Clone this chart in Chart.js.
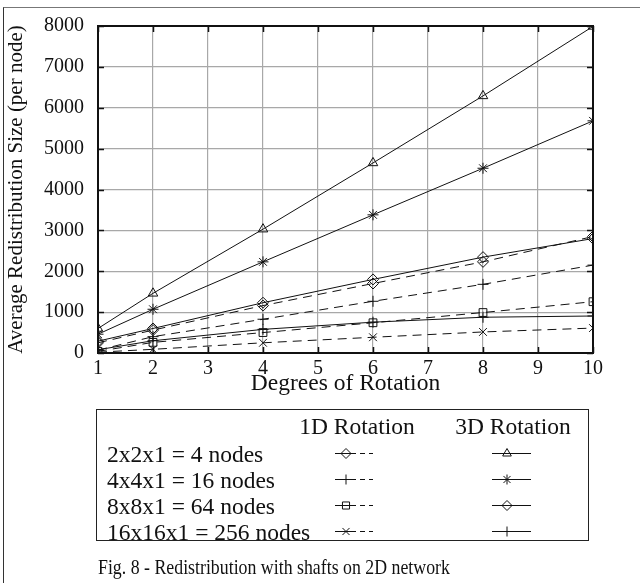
<!DOCTYPE html>
<html>
<head>
<meta charset="utf-8">
<script src="https://cdn.jsdelivr.net/npm/chart.js@4.4.1/dist/chart.umd.min.js"></script>
<style>
  html, body { margin: 0; padding: 0; background: #fff; }
  #wrap { position: relative; width: 640px; height: 583px; overflow: hidden; font-family: "Liberation Serif", "Times New Roman", serif; color: #111; }
  #frame { position: absolute; left: 3px; top: 7px; width: 700px; height: 700px; border-left: 1px solid #333; border-top: 1px solid #777; }
  #c { position: absolute; left: 0; top: 0; }
  #legend { position: absolute; left: 96px; top: 409px; width: 493px; height: 132px; border: 1px solid #222; box-sizing: border-box; }
  .t { position: absolute; font-size: 23.5px; line-height: 24px; white-space: nowrap; }
  #caption { position: absolute; left: 98px; top: 555px; font-size: 22px; line-height: 24px; white-space: nowrap; transform: scaleX(0.81); transform-origin: 0 0; }
</style>
</head>
<body>
<div id="wrap">
  <div id="frame"></div>
  <canvas id="c" width="640" height="583"></canvas>
  <div id="legend"></div>
  <div id="caption"></div>
</div>
<script>
// ---- data ----
const degrees = [1, 2, 4, 6, 8, 10];
const xTicks = [1, 2, 3, 4, 5, 6, 7, 8, 9, 10];
const yTicks = [0, 1000, 2000, 3000, 4000, 5000, 6000, 7000, 8000];
const configLabels = ["2x2x1 = 4 nodes", "4x4x1 = 16 nodes", "8x8x1 = 64 nodes", "16x16x1 = 256 nodes"];
const columnHeaders = ["1D Rotation", "3D Rotation"];
const xTitle = "Degrees of Rotation";
const yTitle = "Average Redistribution Size (per node)";
const captionText = "Fig. 8 - Redistribution with shafts on 2D network";

const rot1D_4   = [250, 560, 1160, 1700, 2230, 2850];
const rot1D_16  = [70, 400, 826, 1265, 1680, 2150];
const rot1D_64  = [40, 260, 500, 740, 990, 1255];
const rot1D_256 = [20, 90, 250, 385, 515, 610];
const rot3D_4   = [600, 1460, 3030, 4650, 6290, 7990];
const rot3D_16  = [460, 1070, 2230, 3380, 4520, 5680];
const rot3D_64  = [290, 600, 1230, 1800, 2345, 2800];
const rot3D_256 = [80, 300, 578, 754, 875, 905];

const style1D = ["rectRot", "cross", "rect", "crossRot"];
const style3D = ["triangle", "star", "rectRot", "cross"];

const series1D = [rot1D_4, rot1D_16, rot1D_64, rot1D_256];
const series3D = [rot3D_4, rot3D_16, rot3D_64, rot3D_256];

function mk(values, label, pstyle, dashed) {
  return {
    label: label,
    data: degrees.map((d, i) => ({ x: d, y: values[i] })),
    borderColor: "#111",
    borderWidth: 1,
    borderDash: dashed ? [9, 6] : [],
    pointStyle: pstyle,
    pointRadius: 5.5,
    pointBorderWidth: 1,
    pointBorderColor: "#111",
    pointBackgroundColor: "rgba(0,0,0,0)",
    fill: false,
    tension: 0
  };
}
const datasets = [];
for (let i = 0; i < 4; i++) datasets.push(mk(series1D[i], configLabels[i] + " 1D", style1D[i], true));
for (let i = 0; i < 4; i++) datasets.push(mk(series3D[i], configLabels[i] + " 3D", style3D[i], false));

// ---- legend text (HTML) ----
const legendEl = document.getElementById("legend");
const LEG_LEFT = 96, LEG_TOP = 409;
const headerX = [356, 512];
const headerY = 425;
const rowY = [453, 479, 505, 531];
columnHeaders.forEach((h, i) => {
  const d = document.createElement("div");
  d.className = "t"; d.textContent = h;
  d.style.left = (headerX[i] - LEG_LEFT) + "px";
  d.style.top = (headerY - LEG_TOP - 12) + "px";
  d.style.transform = "translateX(-50%)";
  legendEl.appendChild(d);
});
configLabels.forEach((l, i) => {
  const d = document.createElement("div");
  d.className = "t"; d.textContent = l;
  d.style.left = (106 - LEG_LEFT) + "px";
  d.style.top = (rowY[i] - LEG_TOP - 12) + "px";
  legendEl.appendChild(d);
});
document.getElementById("caption").textContent = captionText;

// ---- plugin: frame box, inner ticks, legend samples ----
const deco = {
  id: "deco",
  afterDatasetsDraw(chart) {
    const { ctx, chartArea: a, scales } = chart;
    ctx.save();
    ctx.strokeStyle = "#111"; ctx.lineWidth = 1.5; ctx.setLineDash([]);
    xTicks.forEach(v => {
      const px = Math.round(scales.x.getPixelForValue(v)) + 0.5;
      ctx.beginPath(); ctx.moveTo(px, a.top); ctx.lineTo(px, a.top + 6); ctx.stroke();
      ctx.beginPath(); ctx.moveTo(px, a.bottom); ctx.lineTo(px, a.bottom - 6); ctx.stroke();
    });
    yTicks.forEach(v => {
      const py = Math.round(scales.y.getPixelForValue(v)) + 0.5;
      ctx.beginPath(); ctx.moveTo(a.right, py); ctx.lineTo(a.right - 6, py); ctx.stroke();
      ctx.beginPath(); ctx.moveTo(a.left, py); ctx.lineTo(a.left + 6, py); ctx.stroke();
    });
    ctx.lineWidth = 2;
    ctx.strokeRect(a.left, a.top, a.right - a.left, a.bottom - a.top);
    // legend samples
    ctx.lineWidth = 1;
    ctx.strokeStyle = "#111";
    for (let i = 0; i < 4; i++) {
      const y = rowY[i] + 0.5;
      ctx.setLineDash([]);
      ctx.beginPath(); ctx.moveTo(335, y); ctx.lineTo(356, y); ctx.stroke();
      ctx.setLineDash([5, 4]);
      ctx.beginPath(); ctx.moveTo(360, y); ctx.lineTo(373, y); ctx.stroke();
      ctx.setLineDash([]);
      ctx.fillStyle = "rgba(0,0,0,0)";
      Chart.helpers.drawPoint(ctx, { pointStyle: style1D[i], radius: 5, borderWidth: 1, rotation: 0 }, 346, y);
      ctx.beginPath(); ctx.moveTo(492, y); ctx.lineTo(531, y); ctx.stroke();
      ctx.fillStyle = "rgba(0,0,0,0)";
      Chart.helpers.drawPoint(ctx, { pointStyle: style3D[i], radius: 5, borderWidth: 1, rotation: 0 }, 507, y);
    }
    ctx.restore();
  }
};

const FONT = "'Liberation Serif', 'Times New Roman', serif";
new Chart(document.getElementById("c"), {
  type: "line",
  data: { datasets: datasets },
  options: {
    responsive: false,
    animation: false,
    devicePixelRatio: 1,
    layout: { padding: { left: 0, top: 21, right: 47, bottom: 583 - 398 } },
    plugins: { legend: { display: false }, tooltip: { enabled: false } },
    scales: {
      x: {
        type: "linear", min: 1, max: 10,
        afterFit(s) { s.height = 45; },
        afterBuildTicks(s) { s.ticks = xTicks.map(v => ({ value: v })); },
        grid: { color: "#a8a8a8", lineWidth: 1.2, drawTicks: false },
        border: { display: false },
        ticks: { color: "#111", padding: 4, font: { family: FONT, size: 20 }, callback: v => String(v) },
        title: { display: true, text: xTitle, color: "#111", font: { family: FONT, size: 23.5 }, padding: { top: 0, bottom: 0 } }
      },
      y: {
        type: "linear", min: 0, max: 8000,
        afterFit(s) { s.width = 98; },
        afterBuildTicks(s) { s.ticks = yTicks.map(v => ({ value: v })); },
        grid: { color: "#a8a8a8", lineWidth: 1.2, drawTicks: false },
        border: { display: false },
        ticks: { color: "#111", padding: 14, font: { family: FONT, size: 20 }, callback: v => String(v) },
        title: { display: true, text: yTitle, color: "#111", font: { family: FONT, size: 21 }, padding: { top: 4, bottom: 0 } }
      }
    }
  },
  plugins: [deco]
});
</script>
</body>
</html>
